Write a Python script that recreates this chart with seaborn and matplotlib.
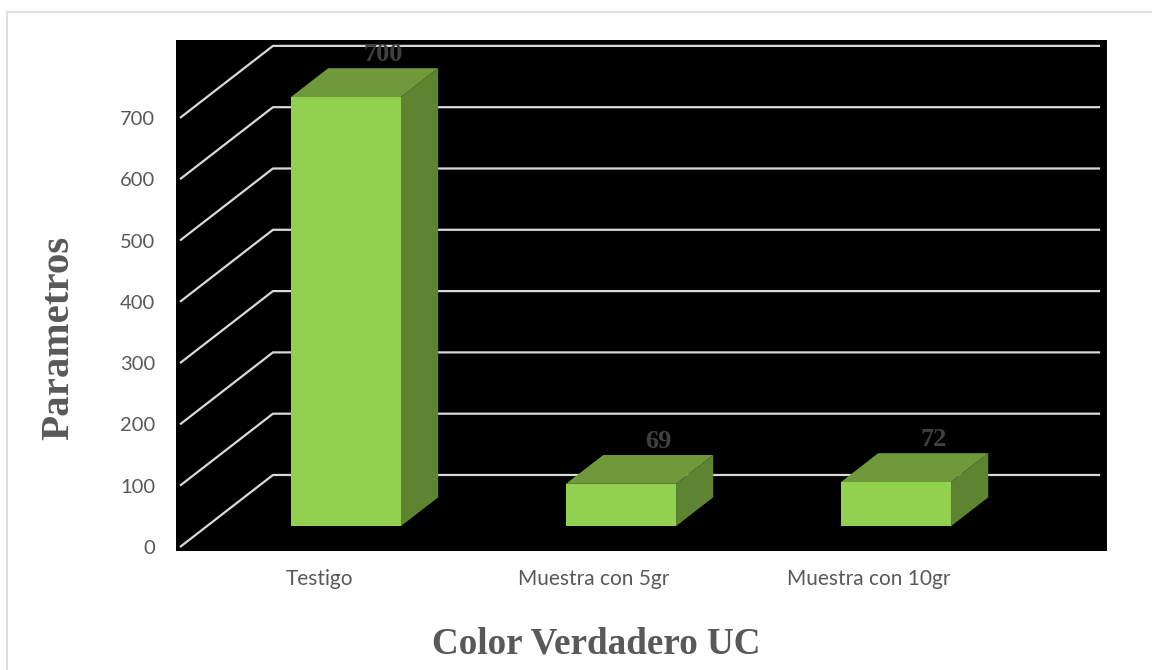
import matplotlib
matplotlib.use("Agg")
import matplotlib.pyplot as plt
from matplotlib.lines import Line2D
from matplotlib.patches import Polygon
import seaborn as sns
import pandas as pd

categories = ["Testigo", "Muestra con 5gr", "Muestra con 10gr"]
values = [700, 69, 72]
y_ticks = [0, 100, 200, 300, 400, 500, 600, 700]
x_title = "Color Verdadero UC"
y_title = "Parametros"

FRONT = "#92D050"
TOP = "#6F9A3C"
SIDE = "#5D8531"
GRID = "#D9D9D9"
TEXT = "#595959"
LABEL = "#404040"

sns.set_theme(style="white")
plt.rcParams['font.family'] = ['Lato', 'DejaVu Sans']

W, H = 1152, 670
fig = plt.figure(figsize=(W / 100, H / 100), dpi=100)
fig.patch.set_facecolor("white")
ax = fig.add_axes([176 / W, 1 - 551 / H, 931 / W, 511 / H])
ax.set_facecolor("black")

df = pd.DataFrame({"cat": categories, "val": values})
sns.barplot(data=df, x="cat", y="val", color=FRONT, width=0.4,
            saturation=1, ax=ax, zorder=3, linewidth=0, errorbar=None)

# 3D projection parameters (data units)
DX, DY = 0.338, 117.5      # full depth of the floor / side wall
F, G = 0.29, 0.40          # bar front depth fraction, bar depth fraction
X_FRONT_LEFT, X_BACK_RIGHT = -0.5055, 2.84

# gridlines: side-wall diagonal + back-wall horizontal
for v in y_ticks:
    ax.plot([X_FRONT_LEFT, X_FRONT_LEFT + DX, X_BACK_RIGHT],
            [v, v + DY, v + DY], color=GRID, lw=1.6, zorder=1,
            solid_capstyle="butt")

# extrude bars
for p, v in zip(ax.patches[:len(values)], values):
    x0 = p.get_x() + F * DX
    y0 = p.get_y() + F * DY
    w, h = p.get_width(), p.get_height()
    p.set_x(x0)
    p.set_y(y0)
    top = Polygon([(x0, y0 + h), (x0 + w, y0 + h),
                   (x0 + w + G * DX, y0 + h + G * DY),
                   (x0 + G * DX, y0 + h + G * DY)],
                  closed=True, facecolor=TOP, edgecolor="none", zorder=3)
    side = Polygon([(x0 + w, y0), (x0 + w, y0 + h),
                    (x0 + w + G * DX, y0 + h + G * DY),
                    (x0 + w + G * DX, y0 + G * DY)],
                   closed=True, facecolor=SIDE, edgecolor="none", zorder=3)
    ax.add_patch(top)
    ax.add_patch(side)
    ax.text(x0 + w / 2 + G * DX, y0 + h + G * DY + 4, f"{v}",
            ha="center", va="bottom", fontsize=19, fontweight="bold",
            color=LABEL, family=["Liberation Serif", "DejaVu Serif"], zorder=4)

ax.set_xlim(-0.52, 2.865)
ax.set_ylim(-6.5, 827.1)
ax.set_yticks(y_ticks)
ax.set_yticklabels([str(t) for t in y_ticks])
for s in ax.spines.values():
    s.set_visible(False)
ax.tick_params(axis="y", length=0, pad=15, labelsize=14.5, labelcolor=TEXT)
ax.tick_params(axis="x", length=0, pad=13, labelsize=15, labelcolor=TEXT)

ax.set_xlabel(x_title, fontsize=26.7, fontweight="bold", color=TEXT,
              family=["Liberation Serif", "DejaVu Serif"])
ax.set_ylabel(y_title, fontsize=29.5, fontweight="bold", color=TEXT,
              family=["Liberation Serif", "DejaVu Serif"])
ax.xaxis.set_label_coords((596 - 176) / 931, (551 - 627) / 511)
ax.yaxis.set_label_coords((77 - 176) / 931, (551 - 337.5) / 511)

# outer chart frame (top and left edges visible)
fig.add_artist(Line2D([6.5 / W, 1.0], [1 - 11.5 / H, 1 - 11.5 / H],
                      transform=fig.transFigure, color=GRID, lw=1.2))
fig.add_artist(Line2D([6.5 / W, 6.5 / W], [1 - 11.5 / H, 0.0],
                      transform=fig.transFigure, color=GRID, lw=1.2))

fig.savefig("out.png", dpi=100, facecolor="white")
